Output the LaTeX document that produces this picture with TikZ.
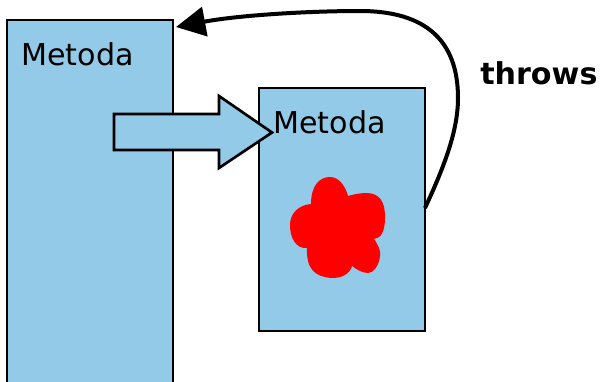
\documentclass[tikz,border=0pt]{standalone}
\usepackage{fontspec}
\setmainfont{DejaVu Sans}
\usetikzlibrary{arrows.meta}
\definecolor{boxblue}{HTML}{93CAE8}
\tikzset{
  px/.style={x=0.75pt,y=-0.75pt},
  method/.style={draw=black,fill=boxblue,line width=1.5pt,inner sep=0pt,outer sep=0pt,anchor=north west},
  lbl/.style={inner sep=0pt,anchor=base west,font=\fontsize{22.6pt}{26pt}\selectfont}
}
\begin{document}
\begin{tikzpicture}[px]
\useasboundingbox (0,0) rectangle (600,382);
\node[method,minimum width=124.5pt,minimum height=272pt] (m1) at (7,20) {};
\node[method,minimum width=124.5pt,minimum height=182.25pt] (m2) at (259,88) {};
\node[lbl] (t1) at (21,65) {Metoda};
\node[lbl] (t2) at (273,133) {Metoda};
\node[lbl,font=\fontsize{22.6pt}{26pt}\selectfont\bfseries] (t3) at (480,84) {throws};
\draw[draw=black,fill=boxblue,line width=2pt,miter limit=10] (114,114) -- (219,114) -- (219,96) -- (272,132.5) -- (219,168) -- (219,150) -- (114,150) -- cycle;
\fill[red] (311,204) .. controls (311,185) and (320,177) .. (330,177) .. controls (340,177) and (346,188) .. (348,196) .. controls (358,193) and (365,193) .. (368,193) .. controls (380,194) and (385,202) .. (385,217) .. controls (385,232) and (381,238) .. (374,239) .. controls (378,245) and (381,250) .. (380,256) .. controls (379,266) and (373,273) .. (368,273) .. controls (362,273) and (356,269) .. (352,266) .. controls (350,274) and (342,278) .. (332,278) .. controls (316,277) and (306,270) .. (307,248) .. controls (296,249) and (290,238) .. (290,225) .. controls (290,213) and (299,205) .. (311,204) -- cycle;
\coordinate (s) at (425,208);
\coordinate (e) at (176,27);
\draw[line width=3pt,-{Triangle[length=22pt,width=22pt]}] (s) .. controls (445,165) and (458,130) .. (458,98) .. controls (458,40) and (425,11) .. (360,11) .. controls (310,11) and (240,15) .. (e);
\end{tikzpicture}
\end{document}
